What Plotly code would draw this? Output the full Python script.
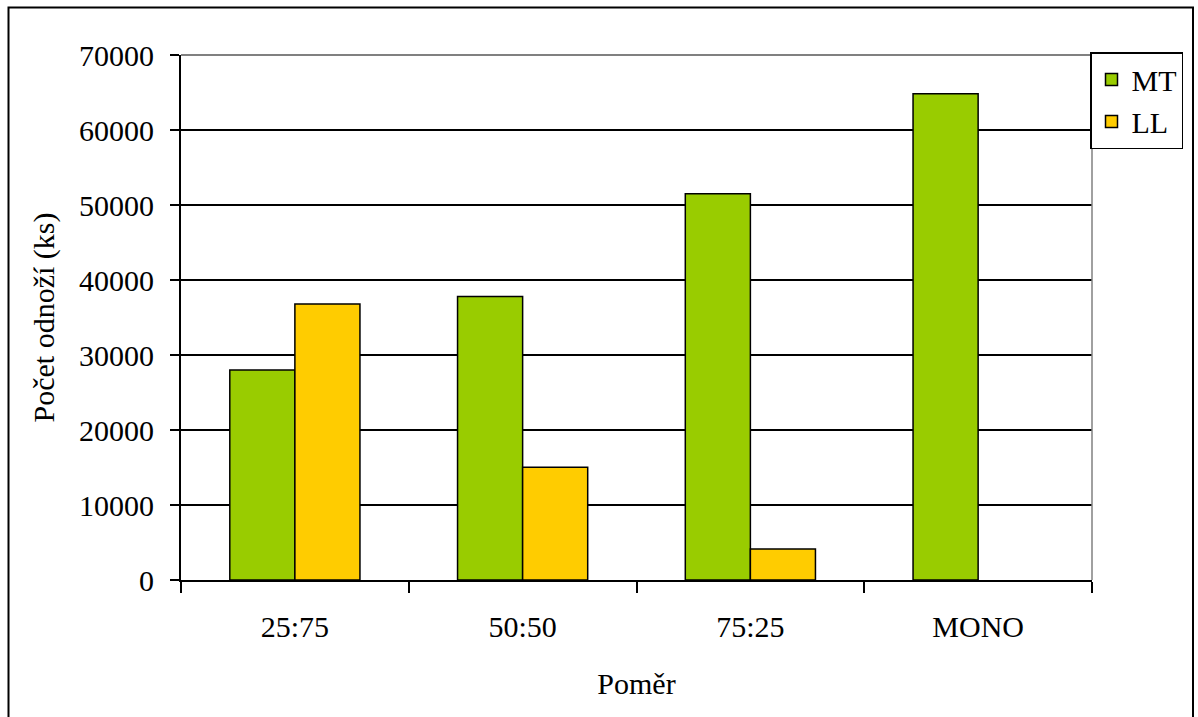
import plotly.graph_objects as go

# Počet odnoží podle poměru směsi
categories = ["25:75", "50:50", "75:25", "MONO"]
mt_values = [28000, 37800, 51500, 64850]
ll_values = [36800, 15050, 4150, 0]
y_ticks = [0, 10000, 20000, 30000, 40000, 50000, 60000, 70000]

W, H = 1198, 717
L, R, T, B = 181, 1092, 55, 580.5
serif = "Times New Roman"
fs = 30

def outline(values):
    # no outline for empty bars
    return [1.5 if v > 0 else 0 for v in values]

fig = go.Figure()
fig.add_trace(go.Bar(
    name="MT", x=categories, y=mt_values,
    marker=dict(color="#99CC00", line=dict(color="black", width=outline(mt_values))),
))
fig.add_trace(go.Bar(
    name="LL", x=categories, y=ll_values,
    marker=dict(color="#FFCC00", line=dict(color="black", width=outline(ll_values))),
))

pw, ph = R - L, B - T

def px_x(x):
    return (x - L) / pw

def px_y(y):
    return (B - y) / ph

fig.update_layout(
    width=W, height=H,
    margin=dict(l=L, r=W - R, t=T, b=H - B),
    paper_bgcolor="white", plot_bgcolor="white",
    barmode="group", bargap=0.75 / 1.75, bargroupgap=0,
    font=dict(family=serif, size=fs, color="black"),
    showlegend=True,
    legend=dict(
        x=px_x(1090), y=px_y(52), xanchor="left", yanchor="top",
        bgcolor="white", bordercolor="black", borderwidth=1.5,
        font=dict(family=serif, size=fs, color="black"),
        itemwidth=30, tracegroupgap=0,
    ),
    xaxis=dict(
        type="category", tickson="boundaries",
        showline=True, linecolor="black", linewidth=2,
        ticks="outside", ticklen=11, tickwidth=1.5, tickcolor="black",
        showgrid=False, zeroline=False,
        tickfont=dict(family=serif, size=fs),
        ticklabelstandoff=19,
        title=dict(text="Poměr", font=dict(family=serif, size=fs), standoff=31),
    ),
    yaxis=dict(
        range=[0, 70000], tickvals=y_ticks,
        ticktext=[str(v) for v in y_ticks],
        showline=True, linecolor="black", linewidth=2,
        ticks="outside", ticklen=9, tickwidth=1.5, tickcolor="black",
        showgrid=True, gridcolor="black", gridwidth=1.5,
        zeroline=False,
        tickfont=dict(family=serif, size=fs),
        ticklabelstandoff=10,
        title=dict(text="Počet odnoží (ks)", font=dict(family=serif, size=fs), standoff=16),
    ),
    shapes=[
        # gray plot-area border on top and right
        dict(type="line", xref="paper", yref="paper", x0=0, x1=1, y0=1, y1=1,
             line=dict(color="#808080", width=2), layer="above"),
        dict(type="line", xref="paper", yref="paper", x0=1, x1=1, y0=0, y1=1,
             line=dict(color="#808080", width=1.5), layer="above"),
        # outer chart frame
        dict(type="rect", xref="paper", yref="paper",
             x0=px_x(8.5), x1=px_x(1193), y0=px_y(760), y1=px_y(7.5),
             line=dict(color="black", width=2), fillcolor="rgba(0,0,0,0)",
             layer="above"),
    ],
)

fig.write_html("out.html")
